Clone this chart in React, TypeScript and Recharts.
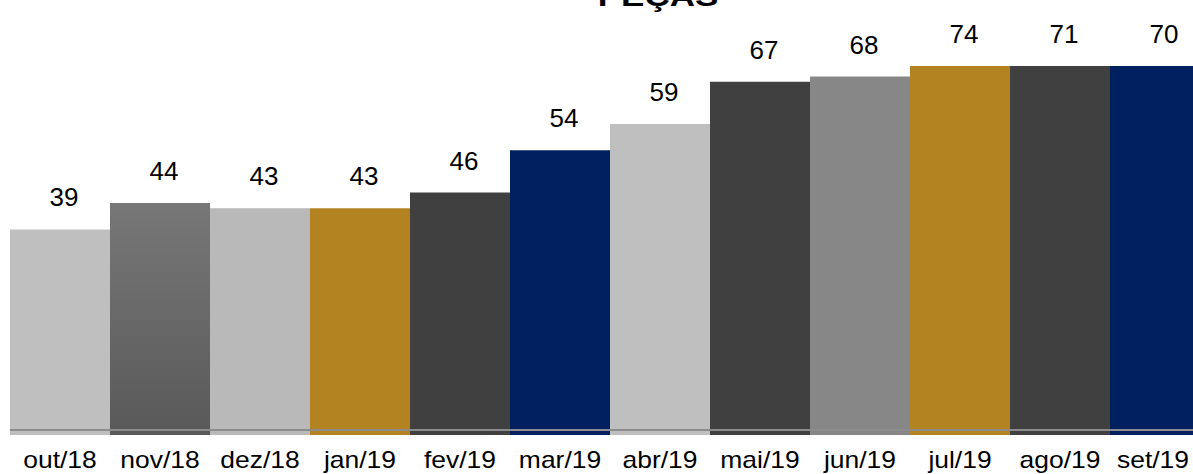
import React from 'react';
import { BarChart, Bar, XAxis, YAxis, Cell, LabelList } from 'recharts';

// monthly data
const months = ['out/18', 'nov/18', 'dez/18', 'jan/19', 'fev/19', 'mar/19', 'abr/19', 'mai/19', 'jun/19', 'jul/19', 'ago/19', 'set/19'];
const pecas = [39, 44, 43, 43, 46, 54, 59, 67, 68, 74, 71, 70];

const barColors = ['#bfbfbf', 'url(#novGrad)', '#b9b9b9', '#b38322', '#404040', '#002060', '#bfbfbf', '#404040', '#878787', '#b38322', '#404040', '#002060'];

const chartData = months.map((m, i) => ({ name: m, value: pecas[i] }));

const PLOT_TOP = 66;
const VIEW_W = 1193;
const FONT = '"Liberation Sans", Arial, sans-serif';

// keep the last label inside the visible area, like the original does
const MonthTick = ({ x, y, payload }: any) => {
  const cx = Math.min(x, VIEW_W - 4 - 36);
  return (
    <g transform={`translate(${cx},${y + 25}) scale(1.15,1)`}>
      <text x={0} y={0} textAnchor="middle" fill="#000" fontSize={23} fontFamily={FONT}>
        {payload.value}
      </text>
    </g>
  );
};

const ValueLabel = ({ x, y, width, value }: any) => {
  const top = Math.max(y, PLOT_TOP);
  return (
    <text x={x + width / 2 + 4} y={top - 23} textAnchor="middle" fill="#000" fontSize={26} fontFamily={FONT}>
      {value}
    </text>
  );
};

export default function App() {
  return (
    <div style={{ position: 'fixed', left: 0, top: 0, width: VIEW_W, height: 474, overflow: 'hidden', background: '#fff' }}>
      <BarChart width={1210} height={474} data={chartData} margin={{ top: PLOT_TOP, right: 0, left: 10, bottom: 0 }} barCategoryGap={0} barGap={0}>
        <defs>
          <linearGradient id="novGrad" x1="0" y1="0" x2="0" y2="1">
            <stop offset="0%" stopColor="#777777" />
            <stop offset="100%" stopColor="#595959" />
          </linearGradient>
        </defs>
        <YAxis hide domain={[0, 70]} allowDataOverflow />
        <Bar dataKey="value" isAnimationActive={false}>
          {chartData.map((d, i) => <Cell key={d.name} fill={barColors[i]} />)}
          <LabelList dataKey="value" content={<ValueLabel />} />
        </Bar>
        <XAxis
          dataKey="name"
          height={39}
          tickLine={false}
          interval={0}
          axisLine={{ stroke: '#8c8c8c', strokeWidth: 2, transform: 'translate(0,-5)' }}
          tick={<MonthTick />}
        />
      </BarChart>
      <svg width={VIEW_W} height={40} style={{ position: 'absolute', left: 0, top: 0 }}>
        <g transform="translate(658,6) scale(1.25,1)">
          <text x={0} y={0} textAnchor="middle" fontSize={28} fontWeight="bold" fontFamily={FONT} fill="#000">PEÇAS</text>
        </g>
      </svg>
    </div>
  );
}
